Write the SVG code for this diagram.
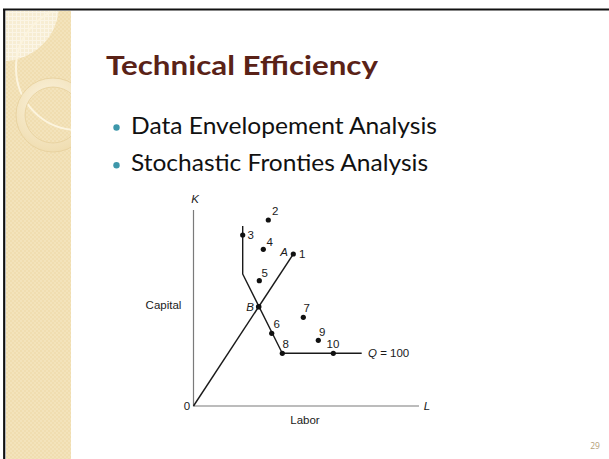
<svg xmlns="http://www.w3.org/2000/svg" width="609" height="459" viewBox="0 0 609 459">
  <defs>
    <pattern id="weave" width="4" height="4" patternUnits="userSpaceOnUse">
      <rect width="4" height="4" fill="#F0DDB0"/>
      <rect width="2" height="2" fill="#F3E3BB"/>
      <rect x="2" y="2" width="2" height="2" fill="#F3E3BB"/>
    </pattern>
    <pattern id="grid" width="4" height="4" patternUnits="userSpaceOnUse">
      <rect width="4" height="4" fill="#F7EDD3"/>
      <path d="M0 0.5H4M0.5 0V4" stroke="#FBF5E6" stroke-width="1"/>
    </pattern>
    <radialGradient id="ringFill" cx="0.45" cy="0.35" r="0.7">
      <stop offset="0" stop-color="#FBF3DF"/>
      <stop offset="1" stop-color="#EFDCAE"/>
    </radialGradient>
    <clipPath id="sideClip">
      <rect x="6" y="11" width="65" height="448"/>
    </clipPath>
  </defs>
  <style>
    .axis { stroke: #7a7a7a; stroke-width: 1.2; fill: none; }
    .curve { stroke: #1a1a1a; stroke-width: 1.4; fill: none; stroke-linejoin: round; }
    .dot { fill: #111; }
    .lbl { font-family: "Liberation Sans", Arial, sans-serif; font-size: 11.5px; fill: #1a1a1a; }
    .it { font-style: italic; }
    .bullet { font-family: "Lato", "Open Sans", sans-serif; font-size: 24px; fill: #111; }
  </style>

  <rect width="609" height="459" fill="#ffffff"/>

  <!-- decorative sidebar -->
  <g id="sidebar" clip-path="url(#sideClip)">
    <rect x="6" y="11" width="65" height="448" fill="url(#weave)"/>
    <circle cx="3" cy="5" r="56" fill="url(#grid)"/>
    <circle cx="78" cy="68" r="62" fill="none" stroke="#FCF4DE" stroke-width="2"/>
    <path d="M53 78a37 37 0 1 1 0 74a37 37 0 1 1 0-74zM53 87a28 28 0 1 0 0 56a28 28 0 1 0 0-56z" fill="url(#ringFill)" fill-rule="evenodd" stroke="#E6CF9C" stroke-width="0.8"/>
  </g>

  <!-- frame -->
  <g id="frame" stroke="#111" stroke-width="2.2">
    <line x1="3" y1="9.5" x2="609" y2="9.5"/>
    <line x1="4.2" y1="9" x2="4.2" y2="459"/>
  </g>

  <!-- heading and bullets -->
  <g id="title">
    <text x="106" y="75" font-family="Lato, 'Open Sans', sans-serif" font-weight="bold" font-size="26" fill="#5A2217" textLength="272" lengthAdjust="spacingAndGlyphs">Technical Efficiency</text>
  </g>
  <g id="bullets">
    <circle cx="116.5" cy="127.5" r="3.2" fill="#3D97AA"/>
    <text class="bullet" x="131" y="133.5" textLength="306" lengthAdjust="spacingAndGlyphs">Data Envelopement Analysis</text>
    <circle cx="116.5" cy="165.3" r="3.2" fill="#3D97AA"/>
    <text class="bullet" x="131" y="171" textLength="297" lengthAdjust="spacingAndGlyphs">Stochastic Fronties Analysis</text>
  </g>

  <!-- axes -->
  <g id="axes">
    <path class="axis" d="M193.5 210V406H419"/>
    <text class="lbl it" x="195" y="203" text-anchor="middle">K</text>
    <text class="lbl it" x="427" y="410" text-anchor="middle">L</text>
    <text class="lbl" x="187" y="410" text-anchor="middle">0</text>
    <text class="lbl" x="163.5" y="309" text-anchor="middle">Capital</text>
    <text class="lbl" x="305" y="423.5" text-anchor="middle">Labor</text>
  </g>

  <!-- connectors: ray and isoquant -->
  <g id="connectors">
    <line class="curve" x1="193.5" y1="406" x2="293.3" y2="254"/>
    <polyline class="curve" points="242.7,226 242.7,274 282.3,353.3 361.7,353.3"/>
  </g>

  <!-- firms -->
  <g id="p1"><circle class="dot" cx="293.3" cy="254" r="2.6"/><text class="lbl" x="299" y="258">1</text><text class="lbl it" x="284" y="256" text-anchor="middle">A</text></g>
  <g id="p2"><circle class="dot" cx="268.3" cy="220" r="2.6"/><text class="lbl" x="272" y="215">2</text></g>
  <g id="p3"><circle class="dot" cx="242.7" cy="235" r="2.6"/><text class="lbl" x="247.5" y="238.5">3</text></g>
  <g id="p4"><circle class="dot" cx="263.3" cy="249.3" r="2.6"/><text class="lbl" x="266.5" y="245.5">4</text></g>
  <g id="p5"><circle class="dot" cx="259.3" cy="280.7" r="2.6"/><text class="lbl" x="261.5" y="276.5">5</text></g>
  <g id="pB"><circle class="dot" cx="258.7" cy="306.7" r="2.8"/><text class="lbl it" x="250" y="311" text-anchor="middle">B</text></g>
  <g id="p6"><circle class="dot" cx="271.7" cy="333.3" r="2.6"/><text class="lbl" x="273.5" y="328">6</text></g>
  <g id="p7"><circle class="dot" cx="303.3" cy="317.3" r="2.6"/><text class="lbl" x="303.5" y="312">7</text></g>
  <g id="p8"><circle class="dot" cx="282.3" cy="353.3" r="2.6"/><text class="lbl" x="282.5" y="348">8</text></g>
  <g id="p9"><circle class="dot" cx="318.3" cy="340.3" r="2.6"/><text class="lbl" x="319" y="335.5">9</text></g>
  <g id="p10"><circle class="dot" cx="333.3" cy="353.3" r="2.6"/><text class="lbl" x="333" y="348" text-anchor="middle">10</text></g>
  <g id="q"><text class="lbl" x="368" y="357"><tspan class="it">Q</tspan> = 100</text></g>

  <text x="595" y="449" font-family="'Open Sans', sans-serif" font-size="8.5" fill="#B59E77" text-anchor="middle">29</text>
</svg>
